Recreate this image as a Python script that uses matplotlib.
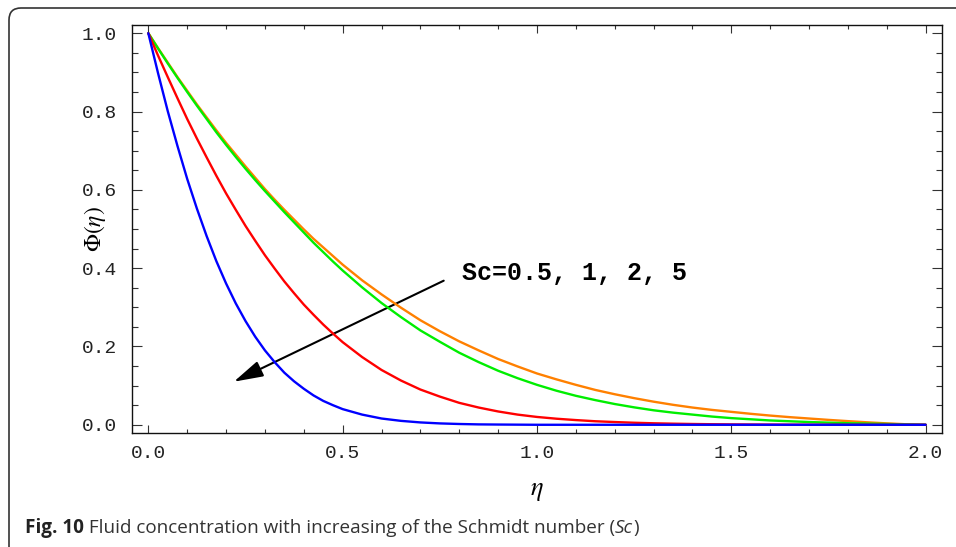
import matplotlib
matplotlib.use("Agg")
import matplotlib.pyplot as plt
from matplotlib.patches import FancyBboxPatch, FancyArrowPatch
from matplotlib.ticker import MultipleLocator, FormatStrFormatter

# Similarity variable and concentration profiles for each Schmidt number
eta = [0.000, 0.025, 0.050, 0.075, 0.100, 0.125, 0.150, 0.175, 0.200, 0.225, 0.250,
       0.275, 0.300, 0.325, 0.350, 0.375, 0.400, 0.425, 0.450, 0.475, 0.500,
       0.55, 0.60, 0.65, 0.70, 0.75, 0.80, 0.85, 0.90, 0.95, 1.00,
       1.05, 1.10, 1.15, 1.20, 1.25, 1.30, 1.35, 1.40, 1.45, 1.50,
       1.55, 1.60, 1.65, 1.70, 1.75, 1.80, 1.85, 1.90, 1.95, 2.00]
phi_sc05 = [1.000, 0.962, 0.925, 0.888, 0.853, 0.818, 0.785, 0.752, 0.720, 0.690, 0.660,
            0.631, 0.602, 0.575, 0.549, 0.524, 0.499, 0.475, 0.453, 0.431, 0.409,
            0.369, 0.333, 0.299, 0.267, 0.239, 0.213, 0.190, 0.168, 0.149, 0.131,
            0.116, 0.102, 0.089, 0.078, 0.068, 0.059, 0.051, 0.044, 0.038, 0.033,
            0.028, 0.0235, 0.0195, 0.016, 0.0125, 0.0093, 0.0063, 0.0036, 0.0013, 0.000]
phi_sc1 = [1.000, 0.961, 0.923, 0.886, 0.850, 0.815, 0.781, 0.747, 0.715, 0.684, 0.654,
           0.625, 0.597, 0.570, 0.543, 0.517, 0.491, 0.465, 0.441, 0.417, 0.394,
           0.351, 0.311, 0.275, 0.241, 0.212, 0.184, 0.160, 0.138, 0.119, 0.102,
           0.087, 0.074, 0.063, 0.053, 0.0445, 0.037, 0.031, 0.026, 0.021, 0.017,
           0.014, 0.011, 0.009, 0.007, 0.0055, 0.004, 0.003, 0.002, 0.001, 0.000]
phi_sc2 = [1.000, 0.943, 0.888, 0.834, 0.781, 0.731, 0.683, 0.636, 0.591, 0.549, 0.508,
           0.470, 0.433, 0.399, 0.366, 0.336, 0.307, 0.281, 0.256, 0.233, 0.211,
           0.173, 0.140, 0.113, 0.090, 0.072, 0.056, 0.044, 0.034, 0.026, 0.020,
           0.0155, 0.012, 0.009, 0.007, 0.0052, 0.0038, 0.0028, 0.002, 0.0014, 0.001,
           0.0007, 0.0005, 0.0003, 0.0002, 0.0001, 0.0, 0.0, 0.0, 0.0, 0.0]
phi_sc5 = [1.000, 0.898, 0.801, 0.712, 0.628, 0.552, 0.482, 0.418, 0.361, 0.310, 0.265,
           0.225, 0.190, 0.160, 0.133, 0.111, 0.092, 0.075, 0.061, 0.050, 0.040,
           0.026, 0.016, 0.010, 0.006, 0.0035, 0.002, 0.001, 0.0006, 0.0003, 0.0,
           0.0, 0.0, 0.0, 0.0, 0.0, 0.0, 0.0, 0.0, 0.0, 0.0,
           0.0, 0.0, 0.0, 0.0, 0.0, 0.0, 0.0, 0.0, 0.0, 0.0]

series = [phi_sc05, phi_sc1, phi_sc2, phi_sc5]
colors = ["#FF8000", "#00EE00", "#FF0000", "#0000FF"]

annot_text = "Sc=0.5, 1, 2, 5"
arrow_start = (0.760, 0.368)
arrow_end = (0.220, 0.110)
annot_pos = (0.808, 0.369)

caption_bold = "Fig. 10"
caption_main = " Fluid concentration with increasing of the Schmidt number ("
caption_ital = "Sc"
caption_end = ")"

W, H = 956, 547
fig = plt.figure(figsize=(W / 100, H / 100), dpi=100)
plt.rcParams["mathtext.fontset"] = "stix"

# Rounded frame around the whole figure (display pixels, origin bottom-left)
border = FancyBboxPatch((9, H - 8 - 560), 1100, 560,
                        boxstyle="round,pad=0,rounding_size=12",
                        transform=None, fill=False, edgecolor="#333333", linewidth=1.2)
fig.patches.append(border)

ax = fig.add_axes([132 / W, 1 - 433 / H, (942 - 132) / W, (433 - 25) / H])
for ys, c in zip(series, colors):
    ax.plot(eta, ys, color=c, lw=1.7, solid_joinstyle="round", solid_capstyle="round")

ax.set_xlim(-0.042, 2.042)
ax.set_ylim(-0.021, 1.021)

ax.xaxis.set_major_locator(MultipleLocator(0.5))
ax.xaxis.set_minor_locator(MultipleLocator(0.1))
ax.yaxis.set_major_locator(MultipleLocator(0.2))
ax.yaxis.set_minor_locator(MultipleLocator(0.05))
ax.xaxis.set_major_formatter(FormatStrFormatter("%.1f"))
ax.yaxis.set_major_formatter(FormatStrFormatter("%.1f"))

ax.tick_params(axis="both", which="both", direction="in", top=True, right=True,
               colors="#333333", width=0.8, labelcolor="#222222")
ax.tick_params(axis="x", which="major", length=5.5, pad=9)
ax.tick_params(axis="x", which="minor", length=3.2)
ax.tick_params(axis="y", which="major", length=7, pad=11)
ax.tick_params(axis="y", which="minor", length=4)
for lab in ax.get_xticklabels() + ax.get_yticklabels():
    lab.set_fontfamily("Liberation Mono")
    lab.set_fontsize(14)
for sp in ax.spines.values():
    sp.set_linewidth(1.0)
    sp.set_color("#111111")

# Axis titles
fig.text(537 / W, 1 - 490 / H, r"$\eta$", fontsize=19, ha="center", va="center")
fig.text(95 / W, 1 - 229 / H, r"$\Phi(\eta)$", fontsize=17, rotation=90,
         ha="center", va="center")

arrow = FancyArrowPatch(arrow_start, arrow_end,
                        arrowstyle="-|>,head_length=0.9,head_width=0.25",
                        mutation_scale=20, color="black", lw=1.5, shrinkA=0, shrinkB=0)
ax.add_patch(arrow)
ax.text(annot_pos[0], annot_pos[1], annot_text, family="Liberation Mono", weight="bold",
        fontsize=18, va="baseline", ha="left", color="black")

# Caption below the plot
cap_size = 13.6
base_y = 1 - 533 / H
t1 = fig.text(25 / W, base_y, caption_bold, family="Open Sans", weight="bold",
              fontsize=cap_size, color="#222222", va="baseline")
fig.canvas.draw()
x = t1.get_window_extent().x1
t2 = fig.text(x / W, base_y, caption_main, family="Open Sans", fontsize=cap_size,
              color="#333333", va="baseline")
fig.canvas.draw()
x = t2.get_window_extent().x1
t3 = fig.text(x / W, base_y, caption_ital, family="Open Sans", style="italic",
              fontsize=cap_size, color="#333333", va="baseline")
fig.canvas.draw()
x = t3.get_window_extent().x1
fig.text(x / W, base_y, caption_end, family="Open Sans",
         fontsize=cap_size, color="#333333", va="baseline")

fig.savefig("out.png", dpi=100)
